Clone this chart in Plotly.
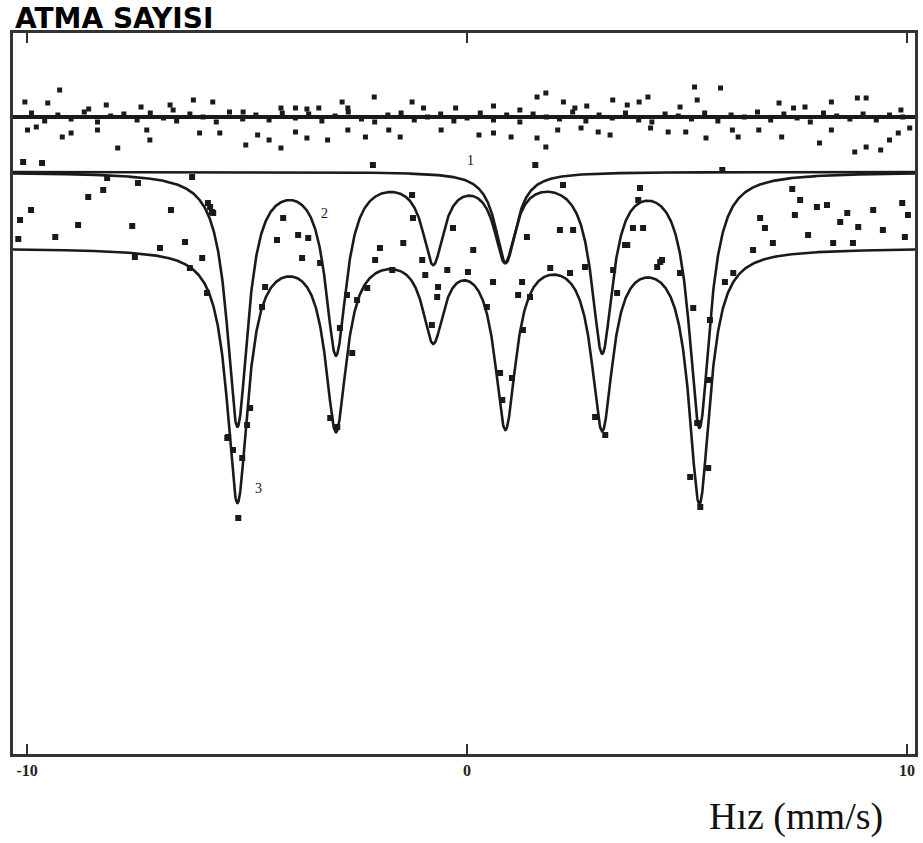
import numpy as np
import plotly.graph_objects as go

# ---------------- data (velocity in mm/s, counts in arbitrary units) ----------------
# upper reference spectrum: flat level and scattered counts
top_level = 637
top_x = [-10.05, -9.26, -9.53, -8.60, -8.20, -7.41, -6.75, -6.68, -6.22, -5.78, -5.09, -4.23, -3.90, -3.64,
         -3.37, -2.84, -2.71, -2.11, -1.25, -0.99, -0.26, 0.60, 1.20, 1.59, 1.79, 2.19, 2.45, 2.72, 3.31,
         3.64, 3.91, 4.11, 4.84, 5.17, 5.23, 5.76, 7.09, 7.42, 7.68, 8.28, 8.87, 9.07, 9.86,
         -9.99, -9.79, -9.20, -9.00, -8.40, -7.94, -7.28, -7.21, -6.08, -5.62, -5.03, -4.76, -4.50, -4.23,
         -3.90, -3.64, -3.17, -2.71, -2.31, -1.78, -1.52, -0.59, 0.27, 0.60, 1.00, 1.59, 1.79, 2.06, 2.59,
         2.98, 3.25, 4.17, 4.57, 4.97, 5.43, 6.03, 6.16, 6.63, 7.15, 8.01, 8.28, 8.81, 9.07, 9.40, 9.60,
         9.80, 10.06,
         -9.9, -9.6, -9.3, -9.0, -8.7, -8.4, -8.1, -7.8, -7.5, -7.2, -6.9, -6.6, -6.3, -6.0, -5.7, -5.4,
         -5.1, -4.8, -4.5, -4.2, -3.9, -3.6, -3.3, -3.0, -2.7, -2.4, -2.1, -1.8, -1.5, -1.2, -0.9, -0.6,
         -0.3, 0.0, 0.3, 0.6, 0.9, 1.2, 1.5, 1.8, 2.1, 2.4, 2.7, 3.0, 3.3, 3.6, 3.9, 4.2, 4.5, 4.8, 5.1,
         5.4, 5.7, 6.0, 6.3, 6.6, 6.9, 7.2, 7.5, 7.8, 8.1, 8.4, 8.7, 9.0, 9.3, 9.6, 9.9]
top_y = [652, 664, 651, 645, 649, 647, 649, 644, 654, 652, 642, 646, 646, 645,
         646, 652, 646, 657, 652, 646, 646, 648, 644, 657, 661, 652, 646, 648, 654,
         649, 652, 657, 647, 667, 654, 666, 651, 646, 647, 652, 656, 656, 644,
         624, 627, 617, 621, 624, 606, 624, 614, 621, 621, 609, 619, 614, 606,
         622, 616, 614, 624, 617, 624, 617, 624, 619, 621, 617, 616, 607, 624, 626,
         622, 619, 626, 622, 622, 616, 624, 617, 624, 617, 611, 624, 602, 607, 604, 614,
         621, 626,
         641, 633, 639, 635, 642, 632, 638, 640, 634, 641, 636, 633, 640, 637, 632, 642,
         635, 639, 634, 641, 636, 640, 633, 638, 642, 635, 632, 639, 641, 634, 637, 640,
         633, 636, 641, 634, 639, 632, 640, 637, 635, 642, 633, 639, 636, 641, 634, 632,
         640, 638, 635, 641, 633, 639, 637, 642, 634, 640, 636, 632, 641, 638, 635, 640,
         634, 639, 637]

# measured spectrum scattered around fit 3
data_x = [-10.09, -9.66, -8.18, -7.48, -6.25, -8.61, -8.27, -9.91, -10.16, -8.84, -7.61, -6.73, -9.36,
          -10.20, -6.41, -5.89, -5.80, -6.98, -7.55, -6.30, -6.02, -5.91,
          5.80, 3.93, 7.39, 7.57, 7.95, 8.18, 8.64, 8.48, 9.23, 9.89, 10.02, 7.45, 6.66, 6.77, 8.89, 9.45,
          7.75, 9.95, 6.95, 6.50, 8.32, 8.77, 3.77, 4.00, 3.64, 4.39, 4.32, 3.32, 6.05, 5.86, 3.89,
          -5.84, -5.77, -4.18, -4.32, -3.84, -3.61, -3.75, -3.34, -4.59, -4.66, -2.73, -2.50, -2.61,
          -2.89, -3.11, -2.95, -4.93, -5.43, -5.00, -5.32,
          -2.14, -1.25, -1.23, -0.32, -1.98, -2.09, -1.45, -1.02, -0.95, -0.45, -0.66, -0.68, 0.14, 0.02,
          0.59, 1.25, 1.16, 1.36, -0.80, -2.27, -1.70, 0.45, 0.75, 1.02, 0.80, 1.27,
          1.55, 2.18, 2.11, 2.41, 2.68, 1.89, 2.34, 1.43, 2.91, 3.14, 3.41, 3.59, 4.43, 5.14, 4.84, 5.52,
          5.48, 5.23, -5.45, -5.11, -5.20, 5.07, 5.48, 5.30]
data_y = [592, 591, 576, 571, 577, 557, 564, 544, 534, 529, 528, 544, 517,
          515, 512, 551, 542, 506, 497, 486, 496, 461,
          584, 566, 565, 554, 547, 549, 541, 532, 544, 551, 539, 539, 536, 526, 527, 524,
          519, 517, 511, 504, 511, 511, 526, 526, 509, 492, 487, 484, 481, 472, 554,
          547, 541, 536, 514, 519, 516, 496, 491, 467, 447, 459, 454, 401,
          426, 336, 327, 346, 317, 329, 304,
          589, 559, 536, 526, 506, 494, 511, 494, 479, 484, 467, 457, 504, 482,
          472, 472, 459, 517, 429, 466, 484, 447, 381, 376, 354, 424,
          589, 569, 524, 524, 487, 486, 481, 457, 337, 319, 461, 509, 494, 446, 481, 434,
          374, 331, 316, 296, 236, 277, 286, 247]

# fitted components (Lorentzian lines)
fit_baseline_12 = 582          # baseline of curves 1 and 2
fit_baseline_3 = 506           # baseline of curve 3 (total fit)
sextet_pos = [-5.22, -2.98, -0.77, 0.86, 3.07, 5.28]
sextet_depth = [251, 177, 85, 83, 175, 252]
singlet_pos = [0.88]
singlet_depth = [91]
line_hwhm = 0.29

x_ticks = [-10, 0, 10]
x_ticklabels = ["<b>-10</b>", "<b>0</b>", "<b>10</b>"]
curve_labels = ["1", "2", "3"]
curve_label_x = [0.07, -3.23, -4.75]
curve_label_y = [594, 541, 266]


def lorentz_sum(v, pos, depth, g):
    out = np.zeros_like(v)
    for c, a in zip(pos, depth):
        out += a / (1 + ((v - c) / g) ** 2)
    return out


v = np.linspace(-10.32, 10.18, 2500)
sext = lorentz_sum(v, sextet_pos, sextet_depth, line_hwhm)
sing = lorentz_sum(v, singlet_pos, singlet_depth, line_hwhm)
curve1 = fit_baseline_12 - sing
curve2 = fit_baseline_12 - sext
curve3 = fit_baseline_3 - sext - sing

fig = go.Figure()
ink = "#1a1a1a"
fig.add_trace(go.Scatter(x=[v[0], v[-1]], y=[top_level, top_level], mode="lines",
                         line=dict(color=ink, width=4), hoverinfo="skip"))
fig.add_trace(go.Scatter(x=top_x, y=top_y, mode="markers",
                         marker=dict(symbol="square", size=5, color=ink)))
for cy in (curve1, curve2, curve3):
    fig.add_trace(go.Scatter(x=v, y=cy, mode="lines", line=dict(color=ink, width=2.6)))
fig.add_trace(go.Scatter(x=data_x, y=data_y, mode="markers",
                         marker=dict(symbol="square", size=6, color=ink)))

for t, lx, ly in zip(curve_labels, curve_label_x, curve_label_y):
    fig.add_annotation(x=lx, y=ly, text=t, showarrow=False,
                       font=dict(family="Liberation Serif", size=14, color="#111"))

fig.add_annotation(xref="paper", yref="paper", x=0, y=1, yshift=-4, xanchor="left", yanchor="bottom",
                   text="<b>ATMA SAYISI</b>", showarrow=False,
                   font=dict(family="DejaVu Sans", size=28, color="#000"))
fig.add_annotation(xref="paper", yref="paper", x=0.967, y=0, yshift=-62, xanchor="right", yanchor="middle",
                   text="Hız (mm/s)", showarrow=False,
                   font=dict(family="Liberation Serif", size=38, color="#111"))

fig.update_layout(
    width=923, height=843,
    margin=dict(l=13, r=8, t=33, b=89),
    paper_bgcolor="white", plot_bgcolor="white",
    showlegend=False,
)
fig.update_xaxes(range=[-10.32, 10.18], tickvals=x_ticks, ticktext=x_ticklabels,
                 ticks="inside", ticklen=10, tickwidth=2, tickcolor="#333",
                 showline=True, linewidth=3, linecolor="#333", mirror="ticks",
                 showgrid=False, zeroline=False, automargin=False,
                 tickfont=dict(family="Liberation Serif", size=16, color="#222"))
fig.update_yaxes(range=[0, 721], showticklabels=False, ticks="",
                 showline=True, linewidth=3, linecolor="#333", mirror=True,
                 showgrid=False, zeroline=False, automargin=False)

fig.write_html("out.html", config={"displayModeBar": False},
               post_script="document.body.style.margin='0';document.body.style.overflow='hidden';")
